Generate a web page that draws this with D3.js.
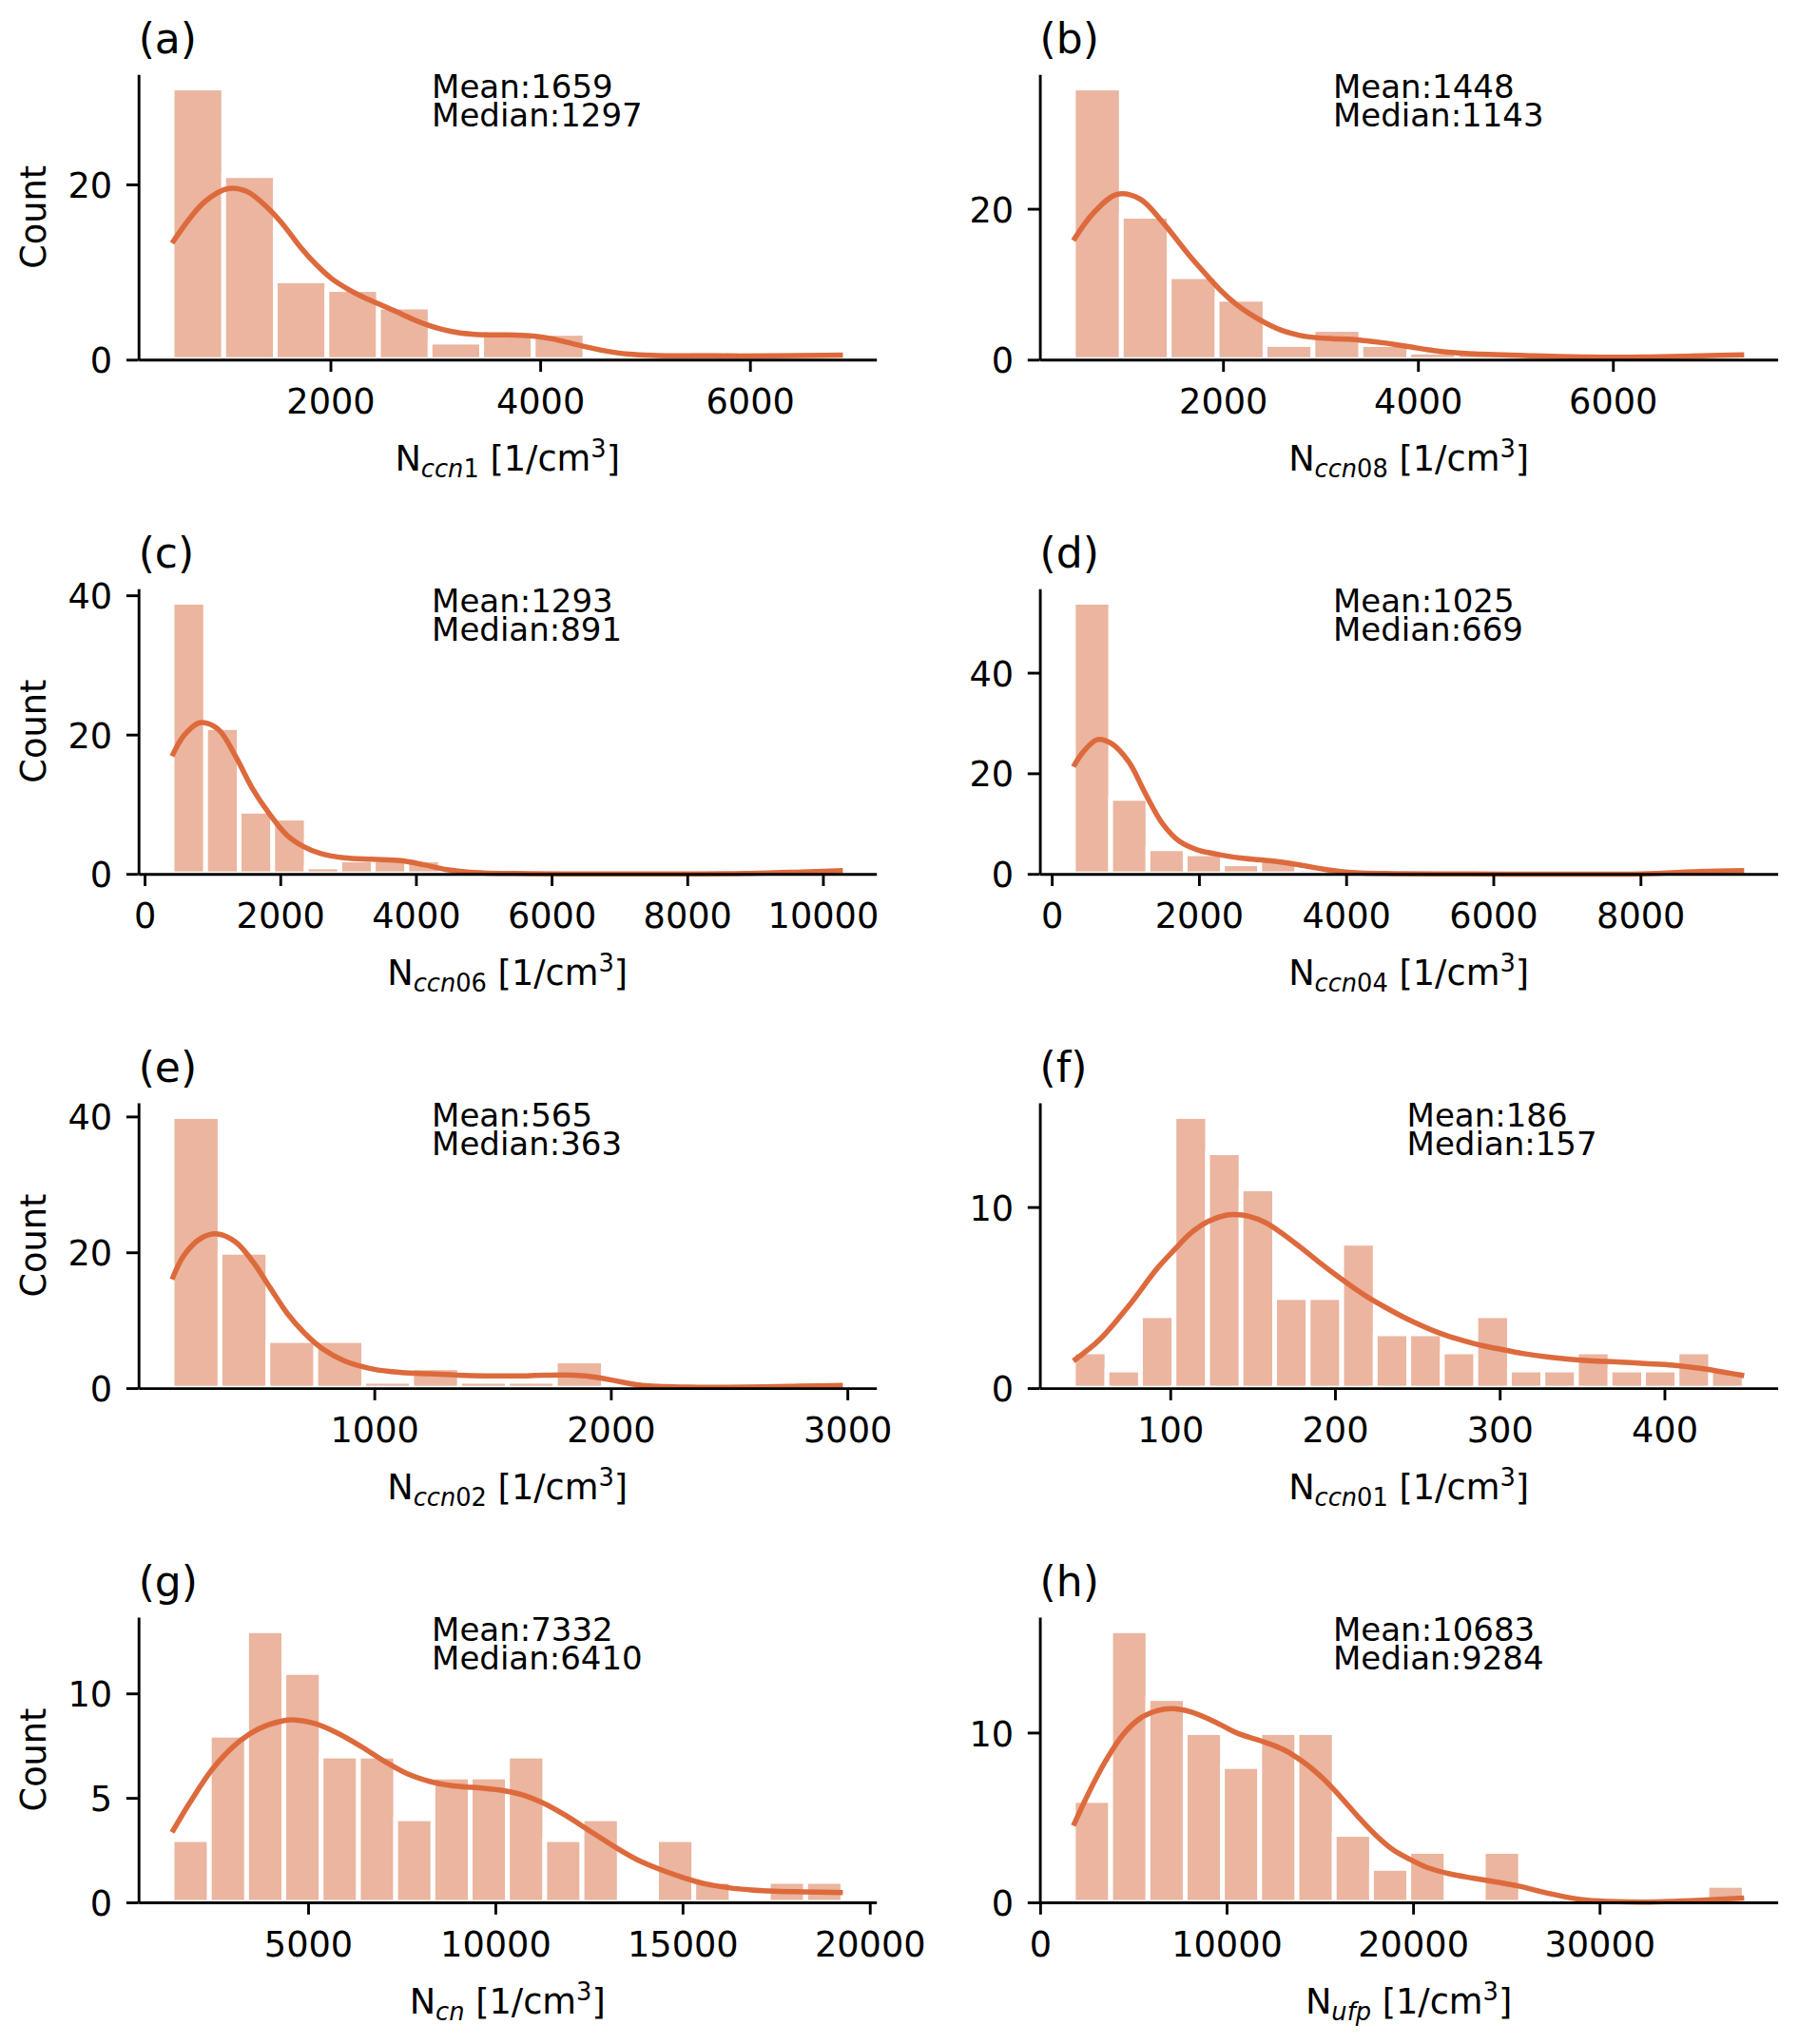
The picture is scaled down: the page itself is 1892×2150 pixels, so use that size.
<!DOCTYPE html>
<html>
<head>
<meta charset="utf-8">
<script src="https://cdn.jsdelivr.net/npm/d3@7/dist/d3.min.js"></script>
<style>
  html, body { margin: 0; padding: 0; background: #ffffff; }
  svg { display: block; }
  .stat { font-family: 'DejaVu Sans', sans-serif; font-size: 34px; line-height: 30px; color: #000; white-space: pre; margin: 0; padding: 0; }
</style>
</head>
<body>
<svg id="chart" width="1892" height="2150"></svg>
<script>
// ---------------- DATA ----------------
const panelLabels = ["(a)", "(b)", "(c)", "(d)", "(e)", "(f)", "(g)", "(h)"];
const meanValues   = [1659, 1448, 1293, 1025, 565, 186, 7332, 10683];
const medianValues = [1297, 1143, 891, 669, 363, 157, 6410, 9284];
const subscripts   = ["ccn1", "ccn08", "ccn06", "ccn04", "ccn02", "ccn01", "cn", "ufp"];

// histogram bin range [first edge, last edge]
const binRanges = [
  [490, 6886], [465, 7347], [405, 10294], [294, 9409],
  [145, 2981], [41.2, 448.4], [1368, 19281], [1785, 37754]
];

// bar counts per bin
const counts_a = [31, 21, 9, 8, 6, 2, 3, 3, 0, 0, 1, 0, 1];
const counts_b = [36, 19, 11, 8, 2, 4, 2, 1, 1, 0, 0, 0, 0, 1];
const counts_c = [39, 21, 9, 8, 1, 2, 2, 2, 0, 0, 0, 0, 0, 0, 0, 0, 0, 0, 0, 1];
const counts_d = [54, 15, 5, 4, 2, 3, 1, 0, 0, 0, 0, 0, 0, 0, 0, 0, 0, 1];
const counts_e = [40, 20, 7, 7, 1, 3, 1, 1, 4, 0, 0, 0, 0, 1];
const counts_f = [2, 1, 4, 15, 13, 11, 5, 5, 8, 3, 3, 2, 4, 1, 1, 2, 1, 1, 2, 1];
const counts_g = [3, 8, 13, 11, 7, 7, 4, 6, 6, 7, 3, 4, 0, 3, 1, 0, 1, 1];
const counts_h = [6, 16, 12, 10, 8, 10, 10, 4, 2, 3, 0, 3, 0, 0, 0, 0, 0, 1];

// KDE curves, [value, count]
const kde_a = [[490,13.3],[657,16.1],[809,18.1],[1020,19.5],[1201,19.2],[1412,17.2],[1563,15.2],[1714,12.84],[1864,10.85],[2015,9.22],[2166,8.06],[2317,7.12],[2468,6.33],[2619,5.53],[2769,4.7],[2920,3.97],[3071,3.43],[3222,3.07],[3373,2.89],[3523,2.82],[3674,2.82],[3825,2.78],[3976,2.64],[4127,2.35],[4278,1.91],[4574,1.1],[4846,0.62],[5118,0.48],[5662,0.43],[6206,0.43],[6886,0.52]];
const kde_b = [[465,15.8],[676,19.5],[912,21.9],[1147,21.3],[1382,18.2],[1649,13.9],[1813,11.47],[1976,9.18],[2139,7.3],[2302,5.84],[2465,4.67],[2628,3.76],[2791,3.21],[2954,2.92],[3117,2.79],[3280,2.71],[3443,2.54],[3607,2.29],[3770,2.0],[3933,1.67],[4096,1.33],[4259,1.04],[4422,0.88],[4585,0.75],[5147,0.52],[5735,0.35],[6324,0.35],[6912,0.52],[7347,0.65]];
const kde_c = [[405,16.9],[574,19.8],[811,21.7],[1081,20.8],[1334,17.0],[1587,12.3],[1841,8.6],[2094,5.6],[2347,3.9],[2601,2.9],[2939,2.3],[3361,2.1],[3783,1.9],[4121,1.3],[4459,0.6],[4796,0.23],[5472,0.05],[6317,0.0],[8005,0.0],[8850,0.05],[9694,0.28],[10294,0.47]];
const kde_d = [[294,21.3],[426,24.2],[620,26.7],[813,25.9],[1045,22.3],[1278,15.8],[1510,9.9],[1742,6.4],[1975,4.8],[2285,3.8],[2594,3.1],[2981,2.6],[3369,1.8],[3678,0.98],[3988,0.39],[4530,0.07],[5692,0.0],[8015,0.0],[8790,0.46],[9409,0.65]];
const kde_e = [[145,16.0],[196,19.6],[269,22.1],[337,22.7],[414,21.5],[487,18.6],[559,14.8],[632,11.0],[705,8.1],[777,5.9],[874,4.0],[995,2.8],[1116,2.3],[1237,2.1],[1358,1.9],[1479,1.8],[1600,1.8],[1722,1.9],[1843,1.9],[1939,1.6],[2036,0.96],[2133,0.39],[2327,0.14],[2569,0.14],[2811,0.29],[2981,0.39]];
const kde_f = [[41.2,1.5],[57.2,2.68],[74.6,4.52],[92.0,6.6],[102.4,7.63],[112.9,8.59],[123.3,9.22],[133.8,9.55],[139.0,9.58],[147.7,9.49],[158.1,9.13],[168.6,8.5],[179.0,7.78],[189.4,7.02],[199.9,6.29],[210.3,5.61],[220.8,4.97],[231.2,4.43],[241.7,3.92],[252.1,3.47],[262.6,3.07],[273.0,2.75],[283.5,2.48],[293.9,2.26],[304.4,2.08],[314.8,1.9],[328.7,1.72],[342.6,1.59],[356.5,1.5],[370.5,1.45],[387.9,1.36],[405.3,1.27],[422.7,1.08],[436.6,0.87],[448.4,0.69]];
const kde_g = [[1368,3.35],[1828,4.73],[2441,6.37],[3054,7.54],[3667,8.29],[4280,8.67],[4663,8.73],[5199,8.55],[5812,8.08],[6425,7.45],[7038,6.75],[7651,6.15],[8264,5.78],[8877,5.57],[9490,5.49],[10103,5.38],[10716,5.15],[11329,4.71],[11942,4.09],[12555,3.38],[13168,2.68],[13781,2.05],[14394,1.58],[15007,1.19],[15620,0.88],[16233,0.7],[16846,0.59],[17459,0.53],[18225,0.5],[19281,0.47]];
const kde_h = [[1785,4.51],[2585,6.4],[3508,8.32],[4431,9.86],[5354,10.83],[6277,11.29],[7046,11.41],[8123,11.21],[9354,10.64],[10585,9.96],[11815,9.52],[13046,9.0],[14277,8.13],[15200,7.26],[16123,6.2],[17046,5.05],[17969,3.99],[18892,3.12],[19815,2.54],[20738,2.06],[21969,1.68],[23200,1.43],[24431,1.2],[25662,0.96],[26892,0.62],[28123,0.33],[29354,0.13],[30892,0.04],[32431,0.02],[33969,0.06],[35508,0.13],[37754,0.25]];

// tick values
const xTicks = [
  [2000, 4000, 6000], [2000, 4000, 6000],
  [0, 2000, 4000, 6000, 8000, 10000], [0, 2000, 4000, 6000, 8000],
  [1000, 2000, 3000], [100, 200, 300, 400],
  [5000, 10000, 15000, 20000], [0, 10000, 20000, 30000]
];
const yTicks = [[0, 20], [0, 20], [0, 20, 40], [0, 20, 40], [0, 20, 40], [0, 10], [0, 5, 10], [0, 10]];
const statTextFrac = [0.4, 0.4, 0.4, 0.4, 0.4, 0.5, 0.4, 0.4];

const allCounts = [counts_a, counts_b, counts_c, counts_d, counts_e, counts_f, counts_g, counts_h];
const allKde = [kde_a, kde_b, kde_c, kde_d, kde_e, kde_f, kde_g, kde_h];

// ---------------- LAYOUT / STYLE ----------------
const FONT = "'DejaVu Sans', sans-serif";
const BAR_FILL = "#EBB59F";
const LINE_COLOR = "#DD6A3C";
const colLeft = [145.7, 1093.6];
const rowTop = [78.3, 619.2, 1160.1, 1701.0];
const AX_W = 776, AX_H = 300;
const TICK_LEN = 12.8, SPINE_W = 2.9;
const TICK_FS = 36.7, LABEL_FS = 36.7, TITLE_FS = 44;

const svg = d3.select("#chart");
svg.append("rect").attr("width", 1892).attr("height", 2150).attr("fill", "#ffffff");

panelLabels.forEach((lab, i) => {
  const col = i % 2, row = Math.floor(i / 2);
  const left = colLeft[col], top = rowTop[row];
  const [b0, b1] = binRanges[i];
  const counts = allCounts[i];
  const nb = counts.length;
  const bw = (b1 - b0) / nb;
  const span = b1 - b0;
  const x = d3.scaleLinear().domain([b0 - 0.05 * span, b1 + 0.05 * span]).range([0, AX_W]);
  const ymax = d3.max(counts) * 1.05;
  const y = d3.scaleLinear().domain([0, ymax]).range([AX_H, 0]);

  const g = svg.append("g").attr("transform", `translate(${left},${top})`);

  // bars
  const bins = counts.map((c, k) => ({ x0: b0 + k * bw, x1: b0 + (k + 1) * bw, c }));
  g.append("g").selectAll("rect")
    .data(bins.filter(d => d.c > 0))
    .join("rect")
    .attr("x", d => x(d.x0))
    .attr("y", d => y(d.c))
    .attr("width", d => x(d.x1) - x(d.x0))
    .attr("height", d => y(0) - y(d.c))
    .attr("fill", BAR_FILL)
    .attr("stroke", "#ffffff")
    .attr("stroke-width", 5);

  // KDE line
  const line = d3.line()
    .x(d => x(d[0]))
    .y(d => y(d[1]))
    .curve(d3.curveCatmullRom.alpha(0.5));
  g.append("path")
    .datum(allKde[i])
    .attr("d", line)
    .attr("fill", "none")
    .attr("stroke", LINE_COLOR)
    .attr("stroke-width", 5.5)
    .attr("stroke-linecap", "butt")
    .attr("stroke-linejoin", "round");

  // x axis
  const xa = g.append("g").attr("transform", `translate(0,${AX_H})`)
    .call(d3.axisBottom(x).tickValues(xTicks[i]).tickSize(TICK_LEN).tickSizeOuter(0).tickFormat(d3.format("d")));
  xa.attr("font-family", null).attr("font-size", null);
  xa.select(".domain").attr("stroke", "#000").attr("stroke-width", SPINE_W);
  xa.selectAll(".tick line").attr("stroke", "#000").attr("stroke-width", SPINE_W);
  xa.selectAll(".tick text")
    .attr("y", 56.7).attr("dy", null)
    .attr("fill", "#000")
    .style("font-family", FONT).style("font-size", TICK_FS + "px");

  // y axis
  const ya = g.append("g")
    .call(d3.axisLeft(y).tickValues(yTicks[i]).tickSize(TICK_LEN).tickSizeOuter(0).tickFormat(d3.format("d")));
  ya.attr("font-family", null).attr("font-size", null);
  ya.select(".domain").attr("stroke", "#000").attr("stroke-width", SPINE_W);
  ya.selectAll(".tick line").attr("stroke", "#000").attr("stroke-width", SPINE_W);
  ya.selectAll(".tick text")
    .attr("x", -27.5).attr("dy", "0.37em")
    .attr("fill", "#000")
    .style("font-family", FONT).style("font-size", TICK_FS + "px");

  // panel label
  g.append("text")
    .attr("x", 0).attr("y", -22)
    .style("font-family", FONT).style("font-size", TITLE_FS + "px")
    .attr("fill", "#000")
    .text(lab);

  // mean / median text: a single two-line text block with tight line spacing
  const fo = g.append("foreignObject")
    .attr("x", statTextFrac[i] * AX_W - 2)
    .attr("y", -2.2)
    .attr("width", 360)
    .attr("height", 64);
  fo.append("xhtml:div").attr("class", "stat")
    .text("Mean:" + meanValues[i] + "\nMedian:" + medianValues[i]);

  // x label: N_sub [1/cm^3]
  const xl = g.append("text")
    .attr("x", AX_W / 2).attr("y", AX_H + 116.7)
    .attr("text-anchor", "middle")
    .style("font-family", FONT).style("font-size", LABEL_FS + "px")
    .attr("fill", "#000");
  xl.append("tspan").text("N");
  const runs = subscripts[i].match(/[a-z]+|[0-9]+/g);
  runs.forEach((r, k) => {
    const t = xl.append("tspan")
      .style("font-size", "25.7px")
      .style("font-style", /[a-z]/.test(r) ? "italic" : "normal")
      .text(r);
    if (k === 0) t.attr("dy", 7);
  });
  xl.append("tspan").attr("dy", -7).text(" [1/cm");
  xl.append("tspan").attr("dy", -13.7).style("font-size", "25.7px").text("3");
  xl.append("tspan").attr("dy", 13.7).text("]");

  // y label on the left column only
  if (col === 0) {
    g.append("text")
      .attr("transform", `translate(${-97.4},${AX_H / 2}) rotate(-90)`)
      .attr("text-anchor", "middle")
      .style("font-family", FONT).style("font-size", LABEL_FS + "px")
      .attr("fill", "#000")
      .text("Count");
  }
});
</script>
</body>
</html>
